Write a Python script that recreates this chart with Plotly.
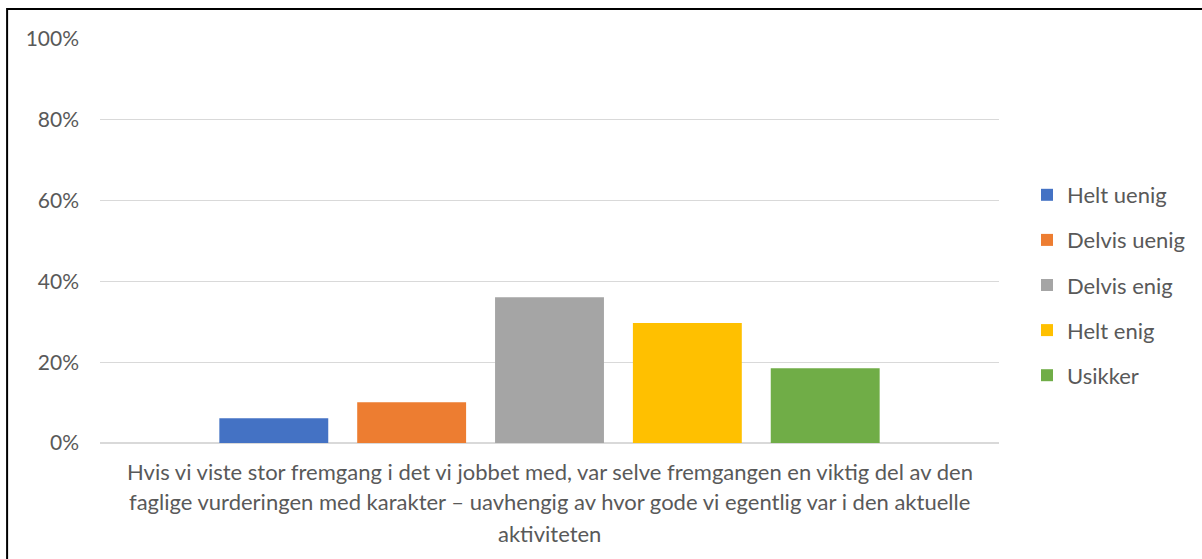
import plotly.graph_objects as go

CATEGORY = "Hvis vi viste stor fremgang i det vi jobbet med, var selve fremgangen en viktig del av den<br>faglige vurderingen med karakter – uavhengig av hvor gode vi egentlig var i den aktuelle<br>aktiviteten"
SERIES = ["Helt uenig", "Delvis uenig", "Delvis enig", "Helt enig", "Usikker"]
VALUES = [0.061, 0.101, 0.361, 0.297, 0.185]
COLORS = ["#4472C4", "#ED7D31", "#A5A5A5", "#FFC000", "#70AD47"]
Y_TICKS = [0, 0.2, 0.4, 0.6, 0.8, 1.0]

FONT = "Lato"
TXT = "#595959"

fig = go.Figure()
for i, (name, val, col) in enumerate(zip(SERIES, VALUES, COLORS)):
    fig.add_trace(go.Bar(
        x=[CATEGORY], y=[val], name=name, marker=dict(color=col, line=dict(width=0)),
        legendgroup=f"g{i}",
    ))

# plot area: x 100..1000, y 39..443 (px)
L, R, T, B = 100, 202, 39, 116
W, H = 1202, 559
pw, ph = W - L - R, H - T - B

def px_x(px):
    return (px - L) / pw

def px_y(py):
    return (H - B - py) / ph

annotations = []
line_centers = [471, 502, 533]
for line, yc in zip(CATEGORY.split("<br>"), line_centers):
    annotations.append(dict(
        text=line, xref="paper", yref="paper", x=0.5, y=px_y(yc),
        xanchor="center", yanchor="middle", showarrow=False,
        font=dict(family=FONT, size=22, color=TXT),
    ))

fig.update_layout(
    width=W, height=H,
    margin=dict(l=L, r=R, t=T, b=B, pad=0),
    paper_bgcolor="white", plot_bgcolor="white",
    barmode="group", bargap=0.2333, bargroupgap=0.21,
    font=dict(family=FONT, size=22, color=TXT),
    showlegend=True,
    legend=dict(
        x=px_x(1027), y=px_y(174), xanchor="left", yanchor="top",
        xref="paper", yref="paper",
        font=dict(family=FONT, size=22, color=TXT),
        tracegroupgap=13.5, bgcolor="rgba(0,0,0,0)",
    ),
    xaxis=dict(showticklabels=False, showgrid=False, zeroline=False, showline=False, ticks=""),
    yaxis=dict(
        range=[0, 1], tickvals=Y_TICKS, tickformat=".0%",
        showgrid=True, gridcolor="#D9D9D9", gridwidth=1,
        zeroline=True, zerolinecolor="#D9D9D9", zerolinewidth=1.5,
        showline=False, ticks="", ticklabelstandoff=20,
        tickfont=dict(family=FONT, size=21, color=TXT),
    ),
    annotations=annotations,
    shapes=[dict(
        type="rect", xref="paper", yref="paper",
        x0=px_x(7), x1=px_x(1210), y0=px_y(570), y1=px_y(9),
        line=dict(color="black", width=2), fillcolor="rgba(0,0,0,0)",
    )],
)

fig.write_html(
    "out.html",
    config={"displayModeBar": False},
    post_script="document.body.style.margin='0px';document.body.style.overflow='hidden';",
)
